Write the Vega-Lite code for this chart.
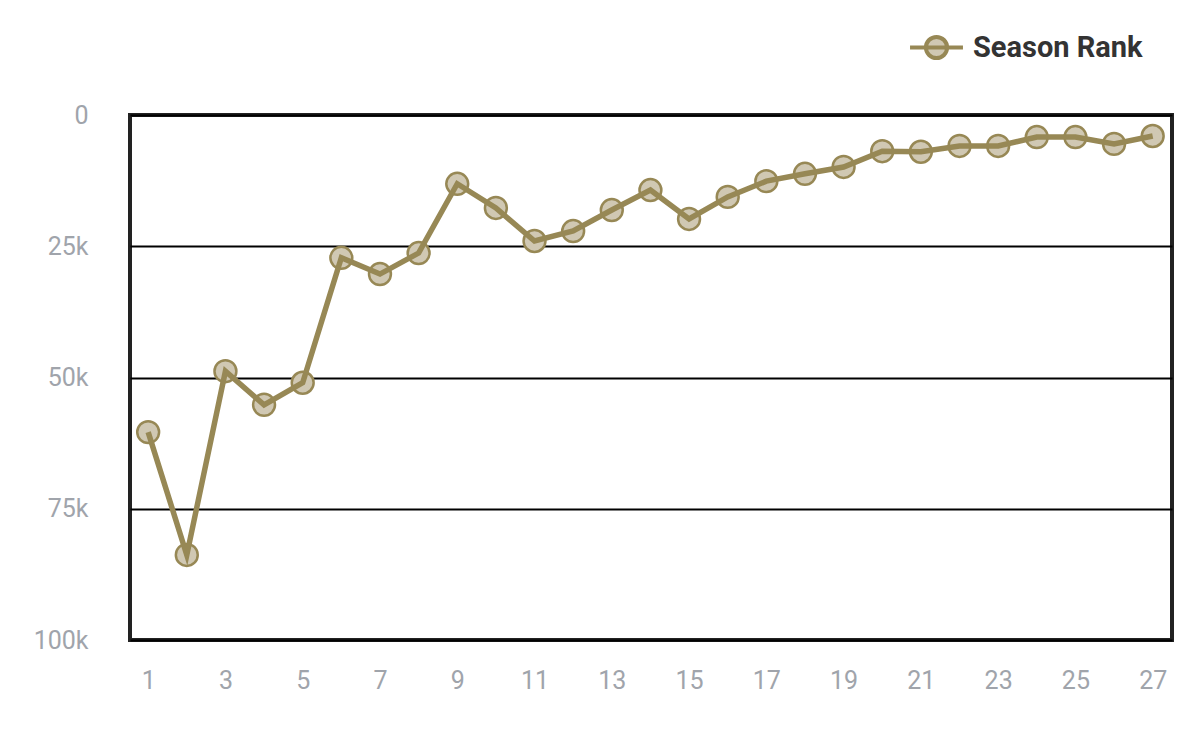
{
  "$schema": "https://vega.github.io/schema/vega-lite/v6.json",
  "autosize": {"type": "none"},
  "width": 1042,
  "height": 525,
  "padding": {"left": 130, "top": 115, "right": 28, "bottom": 94},
  "background": "white",
  "config": {
    "view": {"stroke": "#222222", "strokeWidth": 4},
    "font": "Roboto"
  },
  "data": {
    "values": [
      {"season": 1, "rank": 60400},
      {"season": 2, "rank": 83800},
      {"season": 3, "rank": 48800},
      {"season": 4, "rank": 55200},
      {"season": 5, "rank": 51000},
      {"season": 6, "rank": 27200},
      {"season": 7, "rank": 30300},
      {"season": 8, "rank": 26300},
      {"season": 9, "rank": 13100},
      {"season": 10, "rank": 17700},
      {"season": 11, "rank": 24000},
      {"season": 12, "rank": 22100},
      {"season": 13, "rank": 18100},
      {"season": 14, "rank": 14300},
      {"season": 15, "rank": 19800},
      {"season": 16, "rank": 15600},
      {"season": 17, "rank": 12600},
      {"season": 18, "rank": 11200},
      {"season": 19, "rank": 9900},
      {"season": 20, "rank": 6900},
      {"season": 21, "rank": 7000},
      {"season": 22, "rank": 5900},
      {"season": 23, "rank": 5900},
      {"season": 24, "rank": 4200},
      {"season": 25, "rank": 4200},
      {"season": 26, "rank": 5500},
      {"season": 27, "rank": 4000}
    ]
  },
  "encoding": {
    "x": {
      "field": "season", "type": "quantitative",
      "scale": {"domain": [0.53, 27.5], "nice": false, "zero": false},
      "axis": {
        "title": null, "values": [1,3,5,7,9,11,13,15,17,19,21,23,25,27],
        "grid": false, "domain": false, "ticks": false,
        "labelFont": "Roboto", "labelFontSize": 25, "labelColor": "#a0a4ab",
        "labelPadding": 28
      }
    },
    "y": {
      "field": "rank", "type": "quantitative",
      "scale": {"domain": [0, 100000], "reverse": true, "nice": false},
      "axis": {
        "title": null, "values": [0, 25000, 50000, 75000, 100000],
        "labelExpr": "datum.value == 0 ? '0' : format(datum.value / 1000, 'd') + 'k'",
        "grid": true, "gridColor": "#000000", "gridWidth": 2, "gridOpacity": 1,
        "domain": false, "ticks": false,
        "labelFont": "Roboto", "labelFontSize": 25, "labelColor": "#a0a4ab",
        "labelPadding": 42
      }
    }
  },
  "layer": [
    {
      "mark": {"type": "point", "shape": "circle", "filled": true, "size": 480, "fill": "#d0c8b3", "stroke": "#978855", "strokeWidth": 2.5, "opacity": 1}
    },
    {
      "mark": {"type": "line", "strokeWidth": 5.5},
      "encoding": {
        "color": {
          "datum": "Season Rank", "type": "nominal",
          "scale": {"range": ["#978855"]},
          "legend": {
            "title": null, "orient": "none", "legendX": 778, "legendY": -96,
            "symbolType": "M-1,0L1,0M-0.4,0A0.4,0.4 0 1,1 0.4,0A0.4,0.4 0 1,1 -0.4,0Z",
            "symbolSize": 2800, "symbolStrokeWidth": 4, "symbolFillColor": "#d0c8b3",
            "labelFont": "Roboto", "labelFontSize": 29, "labelFontWeight": "bold", "labelColor": "#333333",
            "labelOffset": 8, "labelLimit": 400
          }
        }
      }
    }
  ]
}
